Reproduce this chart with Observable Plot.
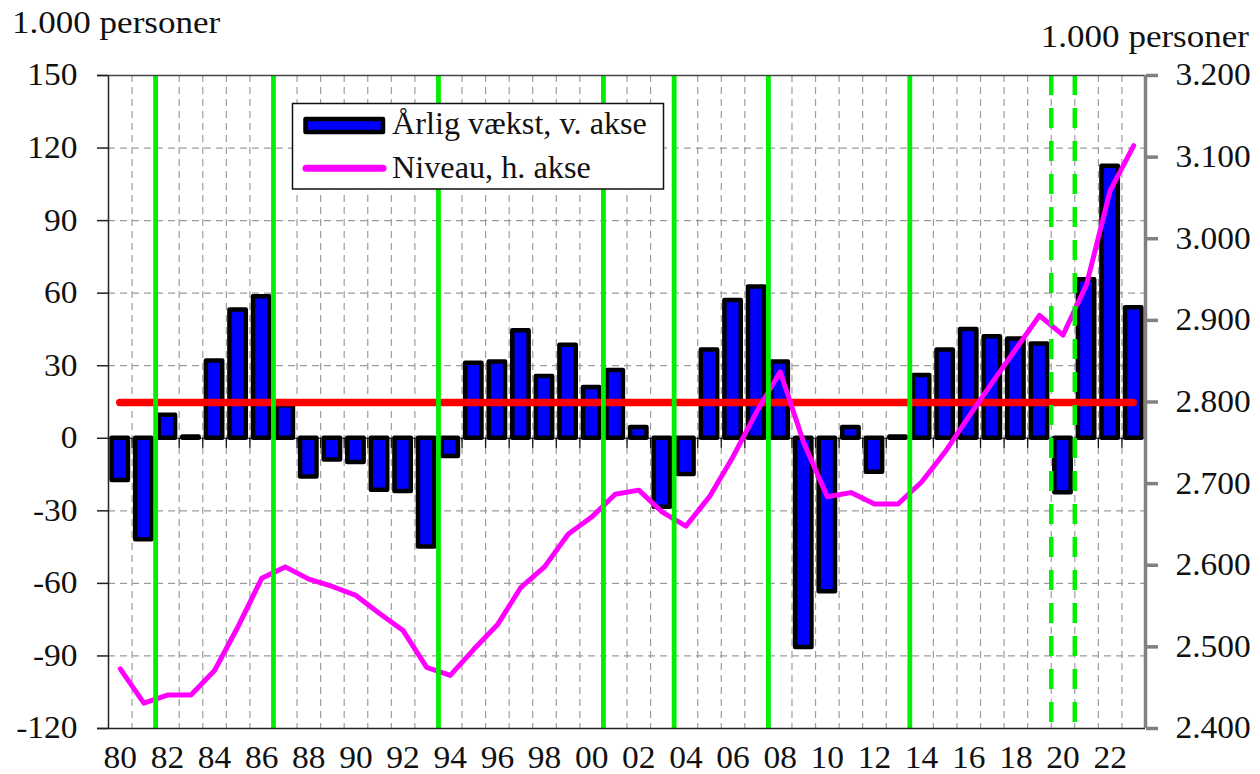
<!DOCTYPE html>
<html><head><meta charset="utf-8">
<script src="https://cdn.jsdelivr.net/npm/d3@7"></script>
<script src="https://cdn.jsdelivr.net/npm/@observablehq/plot@0.6"></script>
<style>body{margin:0;background:#fff}</style>
</head><body><div id="chart"></div>
<script>
// ---------- data ----------
const years = [1980,1981,1982,1983,1984,1985,1986,1987,1988,1989,1990,1991,1992,1993,1994,1995,1996,1997,1998,1999,
               2000,2001,2002,2003,2004,2005,2006,2007,2008,2009,2010,2011,2012,2013,2014,2015,2016,2017,2018,2019,
               2020,2021,2022,2023];
// Årlig vækst (1.000 personer), venstre akse
const growth = [-17.5,-42,9.5,0.5,32,53,58.5,13.5,-16,-9,-10,-21.5,-22,-45,-7.5,31,31.5,44.5,25.5,38.5,
                21,28,4.5,-28.5,-15,36.5,57,62.5,31.5,-86.5,-63.5,4.5,-14,0.5,26,36.5,45,42,41,39,
                -22.5,65.5,112.5,54];
// Niveau (1.000 personer), højre akse
const level = [2473,2431,2441,2441,2471,2525,2584,2598,2583,2574,2563,2541,2520,2475,2465,2497,2527,2573,2598,2638,
               2659,2687,2692,2665,2648,2684,2733,2788,2837,2750,2684,2689,2675,2675,2702,2739,2782,2824,2865,2906,
               2882,2944,3059,3114];
const avgGrowth = 14.8;               // gennemsnitlig vækst (rød linje)
const leftTicks = [-120,-90,-60,-30,0,30,60,90,120,150];
const rightTicks = [2400,2500,2600,2700,2800,2900,3000,3100,3200];
const xTickYears = [1980,1982,1984,1986,1988,1990,1992,1994,1996,1998,2000,2002,2004,2006,2008,2010,2012,2014,2016,2018,2020,2022];
const greenSolid = [1982,1987,1994,2001,2004,2008,2014];   // lodrette grønne linjer (før året)
const greenDashed = [2020,2021];
const seriesLabels = ["Årlig vækst, v. akse","Niveau, h. akse"];
const axisTitle = "1.000 personer";

// ---------- helpers ----------
const leftDomain = [leftTicks[0], leftTicks[leftTicks.length-1]];
const rightDomain = [rightTicks[0], rightTicks[rightTicks.length-1]];
const toLeft = d3.scaleLinear().domain(rightDomain).range(leftDomain);
const dk = d3.formatLocale({decimal:",", thousands:".", grouping:[3], currency:["",""]}).format(",");
const data = years.map((year,i)=>({year, growth: growth[i], level: level[i]}));
const boundaries = years.slice(0,-1).map(y=>y+0.5);
const xDomain = [years[0]-0.5, years[years.length-1]+0.5];

const gridStyle = {stroke:"#9c9c9c", strokeOpacity:1, strokeDasharray:"7,5", strokeWidth:1.2};
const green = "#00f000";

const chart = Plot.plot({
  width:1260, height:774,
  marginLeft:108, marginRight:115, marginTop:75, marginBottom:46,
  x:{domain:xDomain},
  y:{domain:leftDomain},
  style:{fontFamily:"'Liberation Serif','Times New Roman',serif", fontSize:"31px", color:"#111", background:"#fff"},
  marks:[
    Plot.gridX(boundaries, gridStyle),
    Plot.gridY(leftTicks, gridStyle),
    Plot.ruleY([0], {stroke:"#111", strokeWidth:1}),
    Plot.ruleX(boundaries, {y1:0, y2:0, insetBottom:-10, stroke:"#111", strokeWidth:1.3}),
    Plot.rectY(data, {x1:d=>d.year-0.5, x2:d=>d.year+0.5, y1:0, y2:"growth", insetLeft:3.6, insetRight:3.6,
                      fill:"#0000ff", stroke:"#000", strokeWidth:4.5, strokeLinejoin:"round"}),
    Plot.ruleY([avgGrowth], {x1:years[0], x2:years[years.length-1], stroke:"#ff0000", strokeWidth:7.5, strokeLinecap:"round"}),
    Plot.line(data, {x:"year", y:d=>toLeft(d.level), stroke:"#ff00ff", strokeWidth:5, strokeLinejoin:"round", strokeLinecap:"round"}),
    Plot.ruleX(greenSolid, {x:d=>d-0.5, stroke:green, strokeWidth:4.8}),
    Plot.ruleX(greenDashed, {x:d=>d-0.5, stroke:green, strokeWidth:4.5, strokeDasharray:"20,13"}),
    Plot.ruleX([xDomain[0]], {stroke:"#222", strokeWidth:1.5}),
    Plot.ruleY([leftDomain[1]], {stroke:"#444", strokeWidth:1.5, insetLeft:-11}),
    Plot.ruleY([leftDomain[0]], {stroke:"#222", strokeWidth:1.5, insetLeft:-11}),
    Plot.ruleX([xDomain[1]], {stroke:"#808080", strokeWidth:3.5}),
    Plot.axisY({ticks:leftTicks, tickSize:11, tickPadding:20, tickFormat:d=>String(d), label:null, stroke:"#222", strokeWidth:1.5, fill:"#111"}),
    Plot.axisY({anchor:"right", ticks:rightTicks.map(toLeft), tickSize:12, tickPadding:18,
                tickFormat:d=>dk(Math.round(toLeft.invert(d))), label:null, stroke:"#808080", strokeWidth:3.5, fill:"#111"}),
    Plot.axisX({ticks:xTickYears, tickSize:0, tickPadding:17, tickFormat:d=>String(d).slice(2), label:null, fill:"#111"})
  ]
});
document.getElementById("chart").appendChild(chart);

const svg = d3.select(chart);
// stretch axis texts slightly (font is horizontally wider in the reference)
function stretch(sel, f){
  sel.each(function(){
    const w = this.getComputedTextLength();
    if (w > 0){ this.setAttribute("textLength", w*f); this.setAttribute("lengthAdjust","spacingAndGlyphs"); }
  });
}
stretch(svg.selectAll("text"), 1.08);

// axis titles
const t1 = svg.append("text").attr("x",12).attr("y",33).attr("text-anchor","start").attr("fill","#111").attr("font-size",31).text(axisTitle);
const t2 = svg.append("text").attr("x",1249).attr("y",47).attr("text-anchor","end").attr("fill","#111").attr("font-size",31).text(axisTitle);
stretch(t1,1.13); stretch(t2,1.13);

// legend
const lg = svg.append("g").attr("text-anchor","start");
lg.append("rect").attr("x",292.5).attr("y",103.5).attr("width",371).attr("height",85.5).attr("fill","#fff").attr("stroke","#111").attr("stroke-width",1.5);
lg.append("rect").attr("x",305.5).attr("y",119).attr("width",77.5).attr("height",13).attr("fill","#0000ff").attr("stroke","#000").attr("stroke-width",4.5).attr("stroke-linejoin","round");
lg.append("line").attr("x1",306).attr("x2",383).attr("y1",168.3).attr("y2",168.3).attr("stroke","#ff00ff").attr("stroke-width",7).attr("stroke-linecap","round");
const l1 = lg.append("text").attr("x",392).attr("y",133.5).attr("text-anchor","start").attr("fill","#111").attr("font-size",31).text(seriesLabels[0]);
const l2 = lg.append("text").attr("x",392).attr("y",177.5).attr("text-anchor","start").attr("fill","#111").attr("font-size",31).text(seriesLabels[1]);
stretch(l1,1.04); stretch(l2,1.04);
</script>
</body></html>
